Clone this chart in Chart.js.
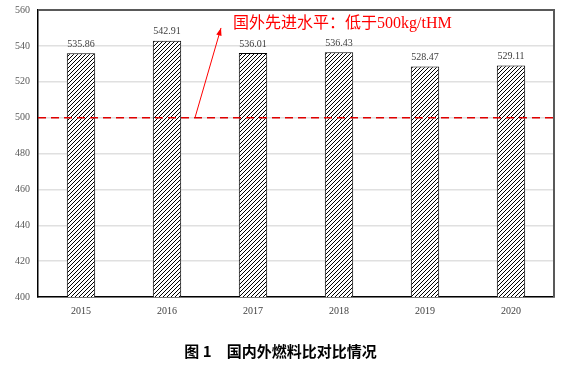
<!DOCTYPE html>
<html>
<head>
<meta charset="utf-8">
<script src="https://cdn.jsdelivr.net/npm/chart.js@4"></script>
<style>
  body { margin: 0; background: #fff; }
  #wrap { width: 568px; height: 369px; }
</style>
</head>
<body>
<div id="wrap"><canvas id="chart" width="568" height="369"></canvas></div>
<script>
const years = ['2015', '2016', '2017', '2018', '2019', '2020'];
const fuelRatio = [535.86, 542.91, 536.01, 536.43, 528.47, 529.11];
const advancedLevel = 500;
const yTicks = [400, 420, 440, 460, 480, 500, 520, 540, 560];

const serif = '"Liberation Serif", "Times New Roman", serif';
const cjk = '"Liberation Serif", "Noto Sans CJK SC", serif';

// diagonal hatch fill
function makeHatch() {
  const c = document.createElement('canvas');
  c.width = 4; c.height = 4;
  const g = c.getContext('2d');
  g.fillStyle = '#fff';
  g.fillRect(0, 0, 4, 4);
  g.strokeStyle = '#000';
  g.lineWidth = 1;
  g.beginPath();
  g.moveTo(0, 4); g.lineTo(4, 0);
  g.moveTo(-1, 1); g.lineTo(1, -1);
  g.moveTo(3, 5); g.lineTo(5, 3);
  g.stroke();
  return g.createPattern(c, 'repeat');
}

const extras = {
  id: 'extras',
  afterDatasetsDraw(chart) {
    const { ctx, chartArea: a, scales: { x, y } } = chart;
    ctx.save();

    // frame top/right
    ctx.strokeStyle = '#595959';
    ctx.lineWidth = 2;
    ctx.beginPath();
    ctx.moveTo(a.left, a.top);
    ctx.lineTo(a.right, a.top);
    ctx.lineTo(a.right, a.bottom);
    ctx.stroke();

    // dashed reference line
    const yl = y.getPixelForValue(advancedLevel);
    ctx.strokeStyle = '#e00000';
    ctx.lineWidth = 1.5;
    ctx.setLineDash([8, 5]);
    ctx.beginPath();
    ctx.moveTo(a.left, yl);
    ctx.lineTo(a.right, yl);
    ctx.stroke();
    ctx.setLineDash([]);

    // value labels
    ctx.fillStyle = '#404040';
    ctx.font = '10px ' + serif;
    ctx.textAlign = 'center';
    ctx.textBaseline = 'bottom';
    const meta = chart.getDatasetMeta(0);
    meta.data.forEach((bar, i) => {
      ctx.fillText(fuelRatio[i].toFixed(2), bar.x, bar.y - 4);
    });

    // arrow + note
    const x0 = x.getPixelForValue(1) + 28, y0 = yl;
    const x1 = x0 + 26, y1 = y.getPixelForValue(550);
    ctx.strokeStyle = '#ff0000';
    ctx.fillStyle = '#ff0000';
    ctx.lineWidth = 1;
    ctx.beginPath();
    ctx.moveTo(x0, y0);
    ctx.lineTo(x1, y1);
    ctx.stroke();
    const ang = Math.atan2(y1 - y0, x1 - x0);
    ctx.beginPath();
    ctx.moveTo(x1, y1);
    ctx.lineTo(x1 - 8 * Math.cos(ang - 0.35), y1 - 8 * Math.sin(ang - 0.35));
    ctx.lineTo(x1 - 8 * Math.cos(ang + 0.35), y1 - 8 * Math.sin(ang + 0.35));
    ctx.closePath();
    ctx.fill();
    ctx.font = '16px ' + cjk;
    ctx.textAlign = 'left';
    ctx.textBaseline = 'middle';
    ctx.fillText('国外先进水平：低于500kg/tHM', x1 + 12, y1 - 4);

    ctx.restore();
  }
};

new Chart(document.getElementById('chart'), {
  type: 'bar',
  data: {
    labels: years,
    datasets: [{
      data: fuelRatio,
      backgroundColor: makeHatch(),
      borderColor: '#000',
      borderWidth: 1,
      categoryPercentage: 1,
      barPercentage: 0.33
    }]
  },
  options: {
    responsive: false,
    animation: false,
    layout: { padding: { left: 7, right: 14, top: 10, bottom: 9 } },
    plugins: {
      legend: { display: false },
      tooltip: { enabled: false },
      title: {
        display: true,
        position: 'bottom',
        text: '图 1　国内外燃料比对比情况',
        color: '#000',
        font: { family: '"Noto Sans CJK SC", sans-serif', size: 15, weight: 'bold' },
        padding: { top: 25, bottom: 0 }
      }
    },
    scales: {
      x: {
        grid: { display: false },
        border: { color: '#000', width: 1.5 },
        ticks: { color: '#404040', font: { family: serif, size: 10 }, padding: 0 }
      },
      y: {
        min: 400,
        max: 560,
        afterBuildTicks: s => { s.ticks = yTicks.map(v => ({ value: v })); },
        grid: { color: '#e0e0e0', lineWidth: 1.5, drawTicks: false },
        border: { color: '#000', width: 1.5 },
        ticks: { color: '#595959', font: { family: serif, size: 10, lineHeight: 0.4 }, padding: 8 }
      }
    }
  },
  plugins: [extras]
});
</script>
</body>
</html>
